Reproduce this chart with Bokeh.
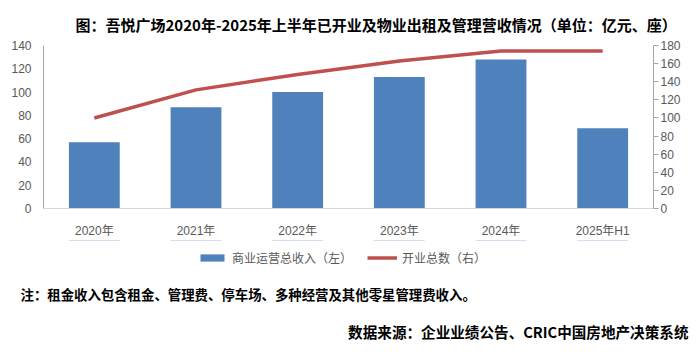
from bokeh.plotting import figure
from bokeh.models import (ColumnDataSource, Range1d, LinearAxis, Legend, LegendItem,
                          FactorRange, SingleIntervalTicker, Title)
from bokeh.layouts import column
from bokeh.embed import file_html
from bokeh.resources import INLINE

categories = ["2020年", "2021年", "2022年", "2023年", "2024年", "2025年H1"]
revenue = [57, 87, 100, 113, 128, 69]          # 商业运营总收入（左）亿元
open_count = [100, 131, 148, 163, 174, 174]    # 开业总数（右）座

title_text = "图：吾悦广场2020年-2025年上半年已开业及物业出租及管理营收情况（单位：亿元、座）"
note_text = "注：租金收入包含租金、管理费、停车场、多种经营及其他零星管理费收入。"
source_text = "数据来源：企业业绩公告、CRIC中国房地产决策系统"
bar_label = "商业运营总收入（左）"
line_label = "开业总数（右）"

W, H = 697, 353
FL, FR, FT, FB = 43, 653, 45, 213
MAIN_H = 240
LEG_FRAME_H = 42

src = ColumnDataSource(dict(cat=categories, rev=revenue, cnt=open_count))

cjk = "Noto Sans CJK SC"
font = "Liberation Sans, Noto Sans CJK SC, sans-serif"
grey = "#595959"
bar_color = "#4F81BD"
line_color = "#C0504D"

p = figure(width=W, height=MAIN_H, x_range=FactorRange(*categories, range_padding=0),
           y_range=Range1d(0, 140), output_backend="svg", toolbar_location=None,
           min_border_left=FL, min_border_right=W - FR, min_border_top=FT,
           min_border_bottom=MAIN_H - FB,
           title=Title(text=title_text, align="left", offset=32, standoff=22,
                       text_font=cjk, text_font_size="15px", text_font_style="bold",
                       text_color="#000000"))
p.x_range.range_padding = 0
p.extra_y_ranges = {"right": Range1d(0, 180)}
p.outline_line_color = None
p.xgrid.visible = False
p.ygrid.visible = False

p.vbar(x="cat", top="rev", width=0.5, source=src, fill_color=bar_color, line_color=None)
p.line(x="cat", y="cnt", source=src, y_range_name="right", line_color=line_color, line_width=3.5)

# left axis
ax = p.yaxis[0]
ax.ticker = SingleIntervalTicker(interval=20)
ax.major_tick_line_color = None
ax.minor_tick_line_color = None
ax.axis_line_color = "#a6a6a6"
ax.major_label_text_font = font
ax.major_label_text_font_size = "12px"
ax.major_label_text_color = grey
ax.major_label_standoff = 6

# right axis
rax = LinearAxis(y_range_name="right", ticker=SingleIntervalTicker(interval=20))
rax.major_tick_line_color = "#a6a6a6"
rax.major_tick_out = 5
rax.major_tick_in = 0
rax.minor_tick_line_color = None
rax.axis_line_color = "#a6a6a6"
rax.major_label_text_font = font
rax.major_label_text_font_size = "12px"
rax.major_label_text_color = grey
rax.major_label_standoff = 2
p.add_layout(rax, "right")

# x axis
xa = p.xaxis[0]
xa.axis_line_color = "#d9d9d9"
xa.major_tick_line_color = None
xa.minor_tick_line_color = None
xa.major_label_text_font = font
xa.major_label_text_font_size = "12px"
xa.major_label_text_color = grey
xa.major_label_standoff = 9

# footer figure: legend (frame) + notes (below panel)
FH = H - MAIN_H
f = figure(width=W, height=FH, x_range=FactorRange(*categories, range_padding=0),
           y_range=Range1d(-2, -1), x_axis_type=None, y_axis_type=None,
           output_backend="svg", toolbar_location=None,
           min_border_left=FL, min_border_right=W - FR, min_border_top=0,
           min_border_bottom=FH - LEG_FRAME_H, outline_line_color=None)
f.xgrid.visible = False
f.ygrid.visible = False
# same series, out of this frame's view: only used for the legend swatches
lb = f.vbar(x="cat", top="rev", width=0.5, source=src, fill_color=bar_color, line_color=None)
ll = f.line(x="cat", y="cnt", source=src, line_color=line_color, line_width=3.5)

legend = Legend(items=[LegendItem(label=bar_label, renderers=[lb]),
                       LegendItem(label=line_label, renderers=[ll])],
                orientation="horizontal", location=(197 - FL, 12),
                glyph_width=30, glyph_height=9, label_height=14, label_standoff=5,
                spacing=15, padding=2, margin=0, border_line_color=None,
                background_fill_alpha=0,
                label_text_font=font, label_text_font_size="12px", label_text_color=grey)
f.add_layout(legend, "center")

note = Title(text=note_text, align="left", offset=20 - FL, standoff=7,
             text_font=cjk, text_font_size="13.4px", text_font_style="bold", text_color="#000000")
f.add_layout(note, "below")
src_t = Title(text=source_text, align="right", offset=-35, standoff=23,
              text_font=cjk, text_font_size="14.6px", text_font_style="bold", text_color="#000000")
f.add_layout(src_t, "below")

layout = column(p, f, spacing=0)
open("out.html", "w").write(file_html(layout, INLINE))
